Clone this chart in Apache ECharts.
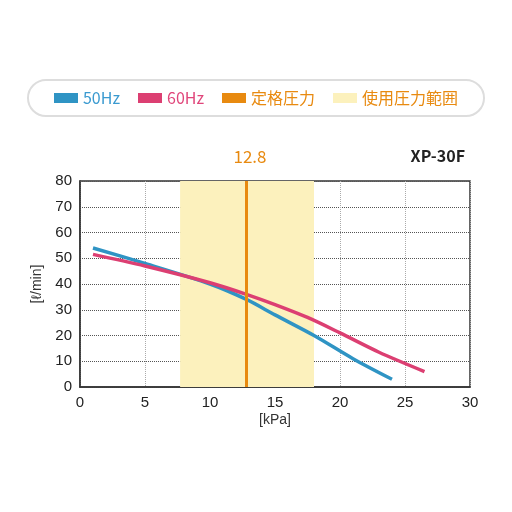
<!DOCTYPE html><html><head><meta charset="utf-8"><script src="https://cdn.jsdelivr.net/npm/echarts@6/dist/echarts.min.js"></script></head><body style="margin:0;background:#fff"><div id="c" style="width:512px;height:512px"></div><script>
const blue50=[[1,54],[5,48],[10,40],[12.8,34],[15,28],[18,20],[21,11],[24,3]];
const red60=[[1,51.5],[5,47],[10,40.5],[12.8,36],[15,32],[17.5,27],[20,21],[23,13.5],[26.5,6]];
const rated=12.8;
const range=[7.7,18];
const c=echarts.init(document.getElementById('c'));
const F='"Noto Sans CJK JP","Noto Sans",sans-serif';
c.setOption({
 animation:false,
 legend:{top:80,left:'center',itemGap:18,padding:[10,26],borderColor:'#ddd',borderWidth:2,borderRadius:20,itemWidth:24,itemHeight:10,
  textStyle:{fontFamily:F,fontSize:16},
  data:[{name:'50Hz',icon:'rect',itemHeight:4,textStyle:{color:'#3a9ad0'}},{name:'60Hz',icon:'rect',itemHeight:4,textStyle:{color:'#e0457a'}},{name:'定格圧力',icon:'rect',itemHeight:4,textStyle:{color:'#e88a10'}},{name:'使用圧力範囲',icon:'rect',itemHeight:18,textStyle:{color:'#e88a10'}}]},
 grid:{left:80,right:42,top:181,bottom:125,show:true,borderColor:'#333',borderWidth:1.5},
 title:[{text:'12.8',left:245,top:143,textAlign:'center',textStyle:{color:'#e88a10',fontSize:17,fontWeight:'normal',fontFamily:F}},
  {text:'XP-30F',right:42,top:143,textStyle:{color:'#222',fontSize:16,fontWeight:'bold',fontFamily:F}}],
 xAxis:{type:'value',min:0,max:30,interval:5,name:'[kPa]',nameLocation:'middle',nameGap:26,nameTextStyle:{fontSize:14,color:'#333'},
  axisLine:{lineStyle:{color:'#333',width:1.5}},axisTick:{show:false},axisLabel:{fontSize:15,color:'#222'},
  splitLine:{lineStyle:{type:'dotted',color:'#aaa'}}},
 yAxis:{type:'value',min:0,max:80,interval:10,name:'[ℓ/min]',nameLocation:'middle',nameGap:34,nameTextStyle:{fontSize:14,color:'#333'},
  axisLine:{show:true,lineStyle:{color:'#333',width:1.5}},axisTick:{show:false},axisLabel:{fontSize:15,color:'#222'},
  splitLine:{lineStyle:{type:'dotted',color:'#555'}}},
 series:[
  {name:'使用圧力範囲',type:'line',data:[],color:'#fcf1bd',markArea:{silent:true,itemStyle:{color:'#fcf1bd'},data:[[{xAxis:range[0]},{xAxis:range[1]}]]}},
  {name:'定格圧力',type:'line',data:[],color:'#e88a10',markLine:{silent:true,symbol:'none',label:{show:false},lineStyle:{color:'#e88a10',width:3,type:'solid'},data:[{xAxis:rated}]}},
  {name:'50Hz',type:'line',smooth:0.3,showSymbol:false,data:blue50,color:'#2f94c4',lineStyle:{width:3.5}},
  {name:'60Hz',type:'line',smooth:0.3,showSymbol:false,data:red60,color:'#dc3f72',lineStyle:{width:3.5}}
 ]});
</script></body></html>
